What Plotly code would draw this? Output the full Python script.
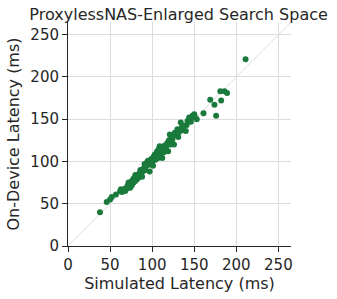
import plotly.graph_objects as go

simulated = [38, 46, 50, 52, 57, 62, 63, 64, 66, 68, 68, 70, 71, 72, 72, 73, 74, 75, 75, 76,
             77, 78, 78, 79, 80, 80, 81, 82, 83, 84, 85, 86, 87, 88, 89, 90, 91, 92, 93, 94,
             95, 96, 97, 98, 99, 100, 101, 102, 103, 104, 105, 106, 107, 108, 109, 110, 111, 112,
             113, 114, 115, 116, 117, 118, 119, 120, 121, 122, 123, 124, 125, 126, 127, 128, 130,
             131, 132, 134, 135, 136, 138, 140, 141, 142, 144, 145, 146, 148, 150, 151, 153, 161,
             169, 174, 176, 181, 182, 186, 189, 211]
on_device = [40, 52, 55, 58, 61, 65, 67, 64, 66, 65, 68, 68, 72, 70, 75, 74, 69, 76, 73, 72,
             78, 75, 80, 80, 77, 84, 82, 79, 84, 81, 86, 90, 83, 82, 88, 92, 97, 90, 95, 99,
             101, 96, 88, 100, 103, 98, 95, 106, 108, 102, 110, 112, 104, 115, 118, 108, 113, 104,
             116, 111, 119, 114, 118, 122, 112, 125, 132, 120, 128, 126, 130, 120, 134, 133, 138,
             129, 135, 146, 140, 137, 142, 136, 143, 148, 152, 150, 147, 154, 156, 152, 150, 157,
             173, 167, 154, 183, 172, 183, 181, 221]

diag = [0, 300]
x_ticks = [0, 50, 100, 150, 200, 250]
y_ticks = [0, 50, 100, 150, 200, 250]

font = dict(family="DejaVu Sans", color="#262626")

fig = go.Figure()
fig.add_trace(go.Scatter(x=diag, y=diag, mode="lines",
                         line=dict(color="#dddddd", width=1), showlegend=False, hoverinfo="skip"))
fig.add_trace(go.Scatter(x=simulated, y=on_device, mode="markers",
                         marker=dict(color="#1a7a3c", size=6, line=dict(width=0)),
                         showlegend=False))

axis_common = dict(
    range=[0, 265], showgrid=True, gridcolor="#dcdcdc", gridwidth=1,
    showline=True, linecolor="#262626", linewidth=1, zeroline=False,
    ticks="outside", ticklen=5, tickcolor="#262626", tickwidth=1,
    tickfont=dict(size=15, **font), mirror=False, automargin=False,
)

fig.update_layout(
    width=337, height=299,
    margin=dict(l=68, r=46, t=22, b=53),
    paper_bgcolor="white", plot_bgcolor="white",
    title=dict(text="ProxylessNAS-Enlarged Search Space", x=0.53, xanchor="center",
               y=1 - 14 / 299, yanchor="middle", yref="container",
               font=dict(size=16, **font)),
    xaxis=dict(tickvals=x_ticks, title=dict(text="Simulated Latency (ms)", font=dict(size=16, **font), standoff=2),
               **axis_common),
    yaxis=dict(tickvals=y_ticks, title=dict(text="On-Device Latency (ms)", font=dict(size=16, **font), standoff=6),
               **axis_common),
)

fig.write_html("out.html", config={"displayModeBar": False},
               post_script="document.body.style.margin='0';document.body.style.padding='0';document.body.style.overflow='hidden';")
